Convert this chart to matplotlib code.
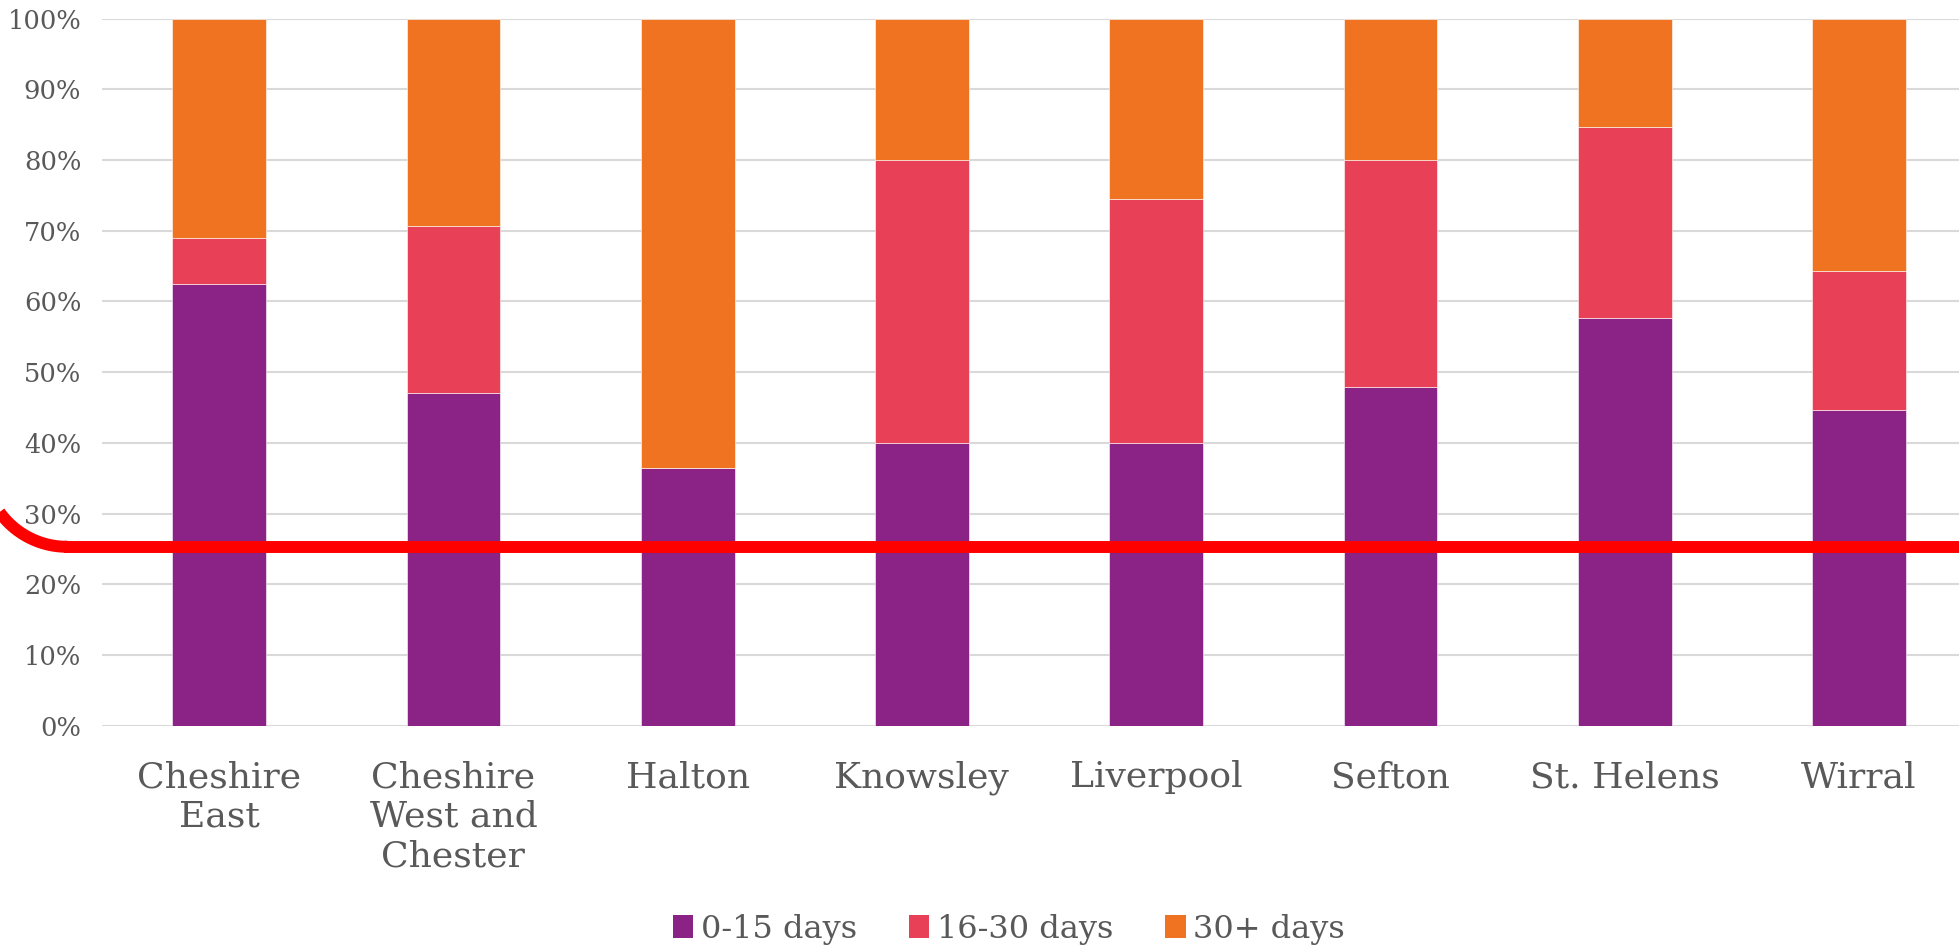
import numpy as np
import matplotlib
matplotlib.use('Agg')
import matplotlib.pyplot as plt
from matplotlib.lines import Line2D
from matplotlib.patches import Patch

# Share of cases by waiting time, per local authority
areas = ['Cheshire\nEast', 'Cheshire\nWest and\nChester', 'Halton', 'Knowsley',
         'Liverpool', 'Sefton', 'St. Helens', 'Wirral']
days_0_15 = [62.5, 47.1, 36.4, 40.0, 40.0, 47.9, 57.7, 44.6]
days_16_30 = [6.4, 23.5, 0.0, 40.0, 34.5, 32.1, 26.9, 19.7]
days_30_plus = [31.1, 29.4, 63.6, 20.0, 25.5, 20.0, 15.4, 35.7]
series_names = ['0-15 days', '16-30 days', '30+ days']
threshold = 25.3

colors = ['#8B2386', '#E84057', '#F07322']
text_color = '#595959'
plt.rcParams['font.family'] = ['DejaVu Serif']

fig = plt.figure(figsize=(19.59, 9.5), dpi=100)
# the chart runs a little past the right edge of the picture
ax = fig.add_axes([0.0521, 0.2361, 0.9566, 0.7444])

x = np.arange(len(areas))
bottom = np.zeros(len(areas))
for vals, col in zip([days_0_15, days_16_30, days_30_plus], colors):
    ax.bar(x, vals, width=0.4, bottom=bottom, color=col,
           edgecolor='white', linewidth=0.4, zorder=2)
    bottom += np.array(vals)

ax.set_xlim(-0.5, len(areas) - 0.5)
ax.set_ylim(0, 100)
ax.set_yticks(np.arange(0, 101, 10))
ax.set_yticklabels([f'{v}%' for v in range(0, 101, 10)], fontsize=18.5, color=text_color)
ax.set_xticks(x)
ax.set_xticklabels(areas, fontsize=26, color=text_color, linespacing=1.2, va='top')
ax.tick_params(axis='both', length=0)
ax.tick_params(axis='x', pad=25)
ax.tick_params(axis='y', pad=15)
ax.grid(axis='y', color='#D9D9D9', linewidth=1.5, zorder=0)
for s in ax.spines.values():
    s.set_visible(False)

# red threshold line with a bend coming in from the left edge
ax.axhline(threshold, color='#FF0000', linewidth=8.6, zorder=3, clip_on=False,
           xmin=-0.02, solid_capstyle='butt')
fig.canvas.draw()
y_px = ax.transData.transform((0, threshold))[1]
x_end = ax.transAxes.transform((-0.02, 0))[0]
r = 83.0
cx, cy = 67.0, y_px + r
t = np.linspace(np.pi * 1.5, np.pi * 1.5 - 0.95, 40)
arc_x = cx + r * np.cos(t)
arc_y = cy + r * np.sin(t)
arc_x = np.concatenate([arc_x[::-1], [x_end]])
arc_y = np.concatenate([arc_y[::-1], [y_px]])
fig.add_artist(Line2D(arc_x, arc_y, color='#FF0000', linewidth=8.6,
                      transform=None, solid_capstyle='butt'))

handles = [Patch(facecolor=c, edgecolor='none') for c in colors]
fig.legend(handles, series_names, loc='center', bbox_to_anchor=(0.515, 0.022),
           ncol=3, frameon=False, fontsize=23, labelcolor=text_color,
           handlelength=0.65, handleheight=0.75, handletextpad=0.25, columnspacing=1.6)

fig.savefig('out.png', dpi=100)
